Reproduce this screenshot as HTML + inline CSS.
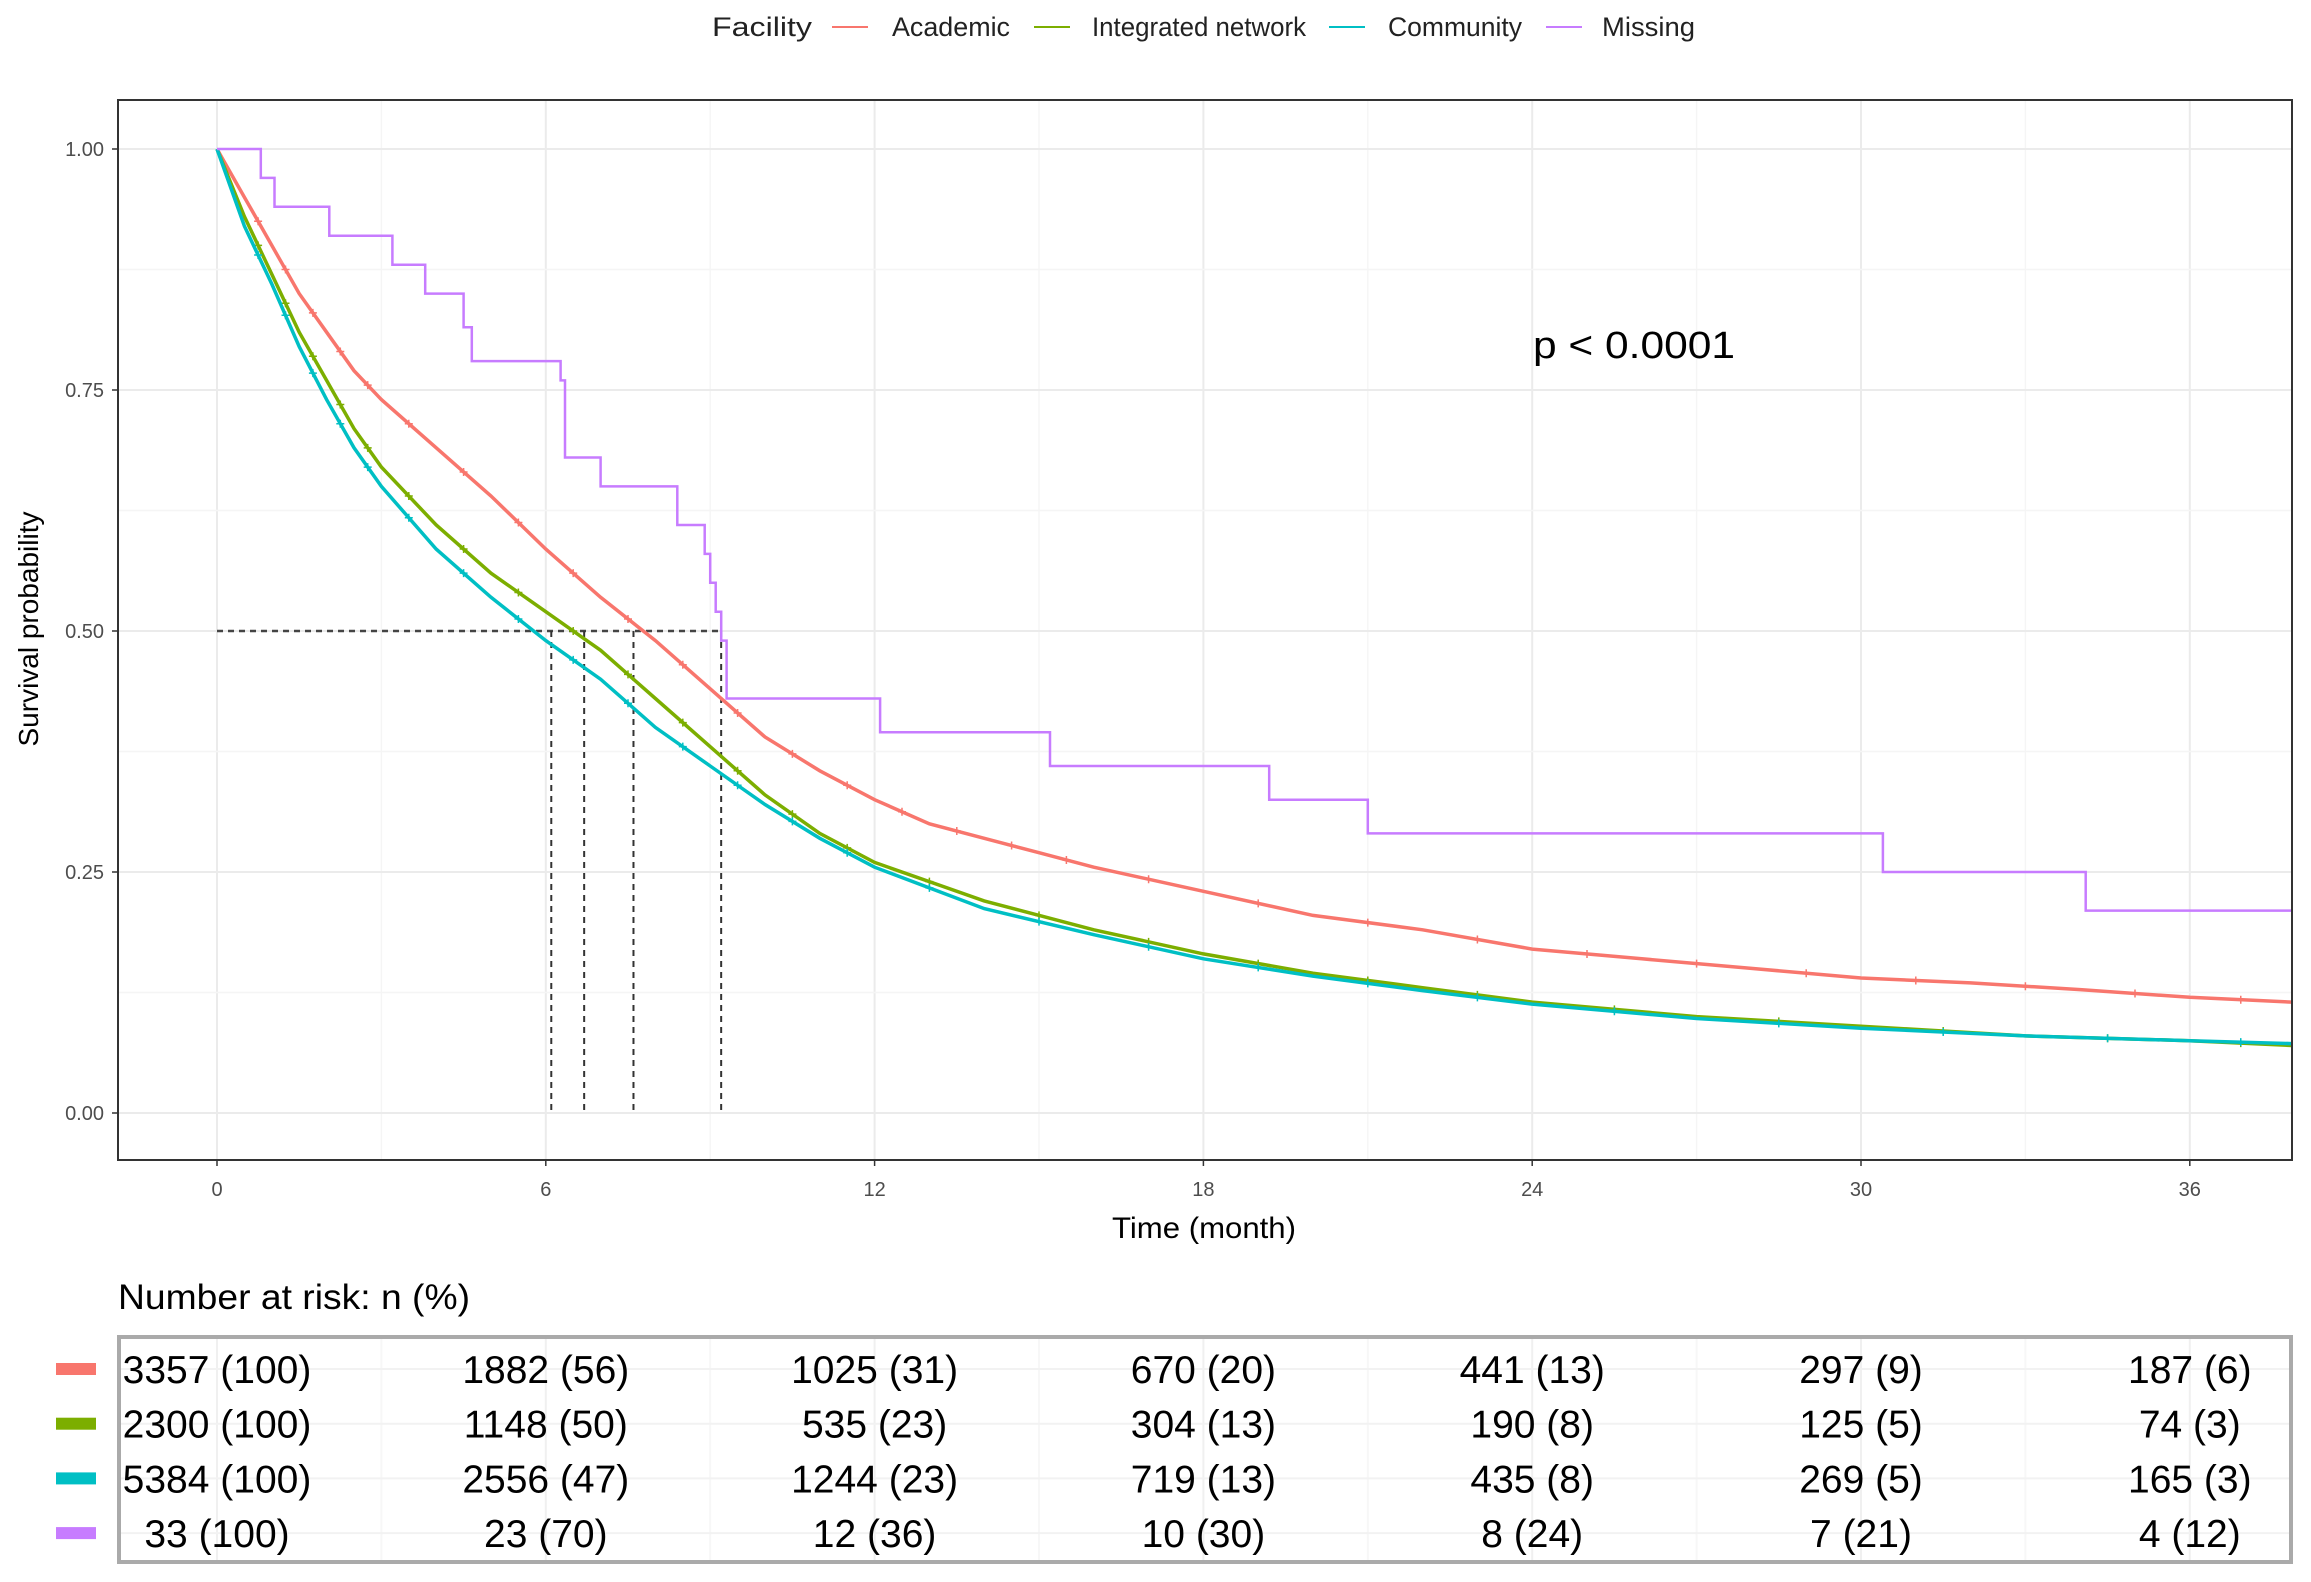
<!DOCTYPE html>
<html><head><meta charset="utf-8"><style>
html,body{margin:0;padding:0;background:#fff}
svg{display:block;font-family:"Liberation Sans",sans-serif}
</style></head><body>
<svg id="chart" width="2311" height="1582" viewBox="0 0 2311 1582" xmlns="http://www.w3.org/2000/svg">
<rect x="0" y="0" width="2311" height="1582" fill="#fff"/>
<g id="legend" font-size="27" fill="#222">
 <text x="712" y="36" textLength="100" lengthAdjust="spacingAndGlyphs">Facility</text>
 <g><line x1="832" y1="27" x2="868" y2="27" stroke="#F8766D" stroke-width="2"/><text x="892" y="36" textLength="118" lengthAdjust="spacingAndGlyphs">Academic</text></g>
 <g><line x1="1034" y1="27" x2="1070" y2="27" stroke="#7CAE00" stroke-width="2"/><text x="1092" y="36" textLength="214" lengthAdjust="spacingAndGlyphs">Integrated network</text></g>
 <g><line x1="1329" y1="27" x2="1365" y2="27" stroke="#00BFC4" stroke-width="2"/><text x="1388" y="36" textLength="134" lengthAdjust="spacingAndGlyphs">Community</text></g>
 <g><line x1="1546" y1="27" x2="1582" y2="27" stroke="#C77CFF" stroke-width="2"/><text x="1602" y="36" textLength="93" lengthAdjust="spacingAndGlyphs">Missing</text></g>
</g>
<g id="grid"></g>
<g id="medians"></g>
<g id="curves"></g>
<rect x="118" y="100" width="2174" height="1060" fill="none" stroke="#333" stroke-width="2"/>
<g id="axes" font-size="20" fill="#4d4d4d"></g>
<text x="1533" y="358" font-size="38" fill="#000" textLength="202" lengthAdjust="spacingAndGlyphs">p &lt; 0.0001</text>
<text x="1204" y="1238" font-size="30" fill="#000" text-anchor="middle" textLength="184" lengthAdjust="spacingAndGlyphs">Time (month)</text>
<text transform="translate(38,629) rotate(-90)" font-size="28" fill="#000" text-anchor="middle">Survival probability</text>
<text x="118" y="1309" font-size="35" fill="#000" textLength="352" lengthAdjust="spacingAndGlyphs">Number at risk: n (%)</text>
<g id="risk"></g>
</svg>
<script>
const times=[0,6,12,18,24,30,36];
const acadT=[0,0.5,1,1.5,2,2.5,3,4,5,6,7,8,9,10,11,12,13,14,15,16,18,20,22,24,26,28,30,32,34,36,37.86];
const acadS=[1,0.95,0.9,0.85,0.81,0.77,0.74,0.69,0.64,0.585,0.535,0.49,0.44,0.39,0.355,0.325,0.3,0.285,0.27,0.255,0.23,0.205,0.19,0.17,0.16,0.15,0.14,0.135,0.128,0.12,0.115];
const intT=[0,0.5,1,1.5,2,2.5,3,4,5,6,7,8,9,10,11,12,14,16,18,20,22,24,27,30,33,36,37.86];
const intS=[1,0.93,0.87,0.81,0.76,0.71,0.67,0.61,0.56,0.52,0.48,0.43,0.38,0.33,0.29,0.26,0.22,0.19,0.165,0.145,0.13,0.115,0.1,0.09,0.08,0.075,0.07];
const comT=[0,0.5,1,1.5,2,2.5,3,4,5,6,7,8,9,10,11,12,14,16,18,20,22,24,27,30,33,36,37.86];
const comS=[1,0.92,0.86,0.795,0.74,0.69,0.65,0.585,0.535,0.49,0.45,0.4,0.36,0.32,0.285,0.255,0.212,0.185,0.16,0.142,0.127,0.113,0.098,0.088,0.08,0.075,0.072];
const misT=[0,0.8,1.05,2.05,3.2,3.8,4.5,4.65,6.27,6.35,7.0,8.4,8.9,9.0,9.1,9.2,9.3,12.1,15.2,19.2,21.0,30.4,34.1,37.86];
const misS=[1,0.97,0.94,0.91,0.88,0.85,0.815,0.78,0.76,0.68,0.65,0.61,0.58,0.55,0.52,0.49,0.43,0.395,0.36,0.325,0.29,0.25,0.21,0.21];
const medians=[6.1,6.7,7.6,9.2];
const riskAcad=["3357 (100)","1882 (56)","1025 (31)","670 (20)","441 (13)","297 (9)","187 (6)"];
const riskInt=["2300 (100)","1148 (50)","535 (23)","304 (13)","190 (8)","125 (5)","74 (3)"];
const riskCom=["5384 (100)","2556 (47)","1244 (23)","719 (13)","435 (8)","269 (5)","165 (3)"];
const riskMis=["33 (100)","23 (70)","12 (36)","10 (30)","8 (24)","7 (21)","4 (12)"];
const yTicks=[0,0.25,0.5,0.75,1];
const yTickLabels=["0.00","0.25","0.50","0.75","1.00"];

const NS="http://www.w3.org/2000/svg";
const X=t=>217+t*54.8;
const Y=v=>1113-v*964;
function mk(tag,attrs,parent){const e=document.createElementNS(NS,tag);for(const k in attrs)e.setAttribute(k,attrs[k]);parent.appendChild(e);return e;}
const grid=document.getElementById('grid');
for(let t=-3;t<=39;t+=3){const x=X(t);if(x<119||x>2291)continue;
 const l=mk('line',{x1:x,y1:101,x2:x,y2:1159,stroke:t%6===0?'#ebebeb':'#f5f5f5','stroke-width':t%6===0?2:1.5},grid);
 }
for(let v=-0.125;v<=1.126;v+=0.125){const y=Y(v);if(y<101||y>1159)continue;
 const maj=Math.abs(v*4-Math.round(v*4))<1e-6;
 const l=mk('line',{x1:119,y1:y,x2:2291,y2:y,stroke:maj?'#ebebeb':'#f5f5f5','stroke-width':maj?2:1.5},grid);
 }
const axes=document.getElementById('axes');
yTicks.forEach((v,i)=>{mk('line',{x1:112,y1:Y(v),x2:118,y2:Y(v),stroke:'#333','stroke-width':1.5},axes);
 const t=mk('text',{x:104,y:Y(v)+7,'text-anchor':'end'},axes);t.textContent=yTickLabels[i];
 });
times.forEach(tm=>{mk('line',{x1:X(tm),y1:1160,x2:X(tm),y2:1166,stroke:'#333','stroke-width':1.5},axes);
 const t=mk('text',{x:X(tm),y:1196,'text-anchor':'middle'},axes);t.textContent=tm;
 });
const med=document.getElementById('medians');
const hl=mk('line',{x1:X(0),y1:Y(0.5),x2:X(Math.max(...medians)),y2:Y(0.5),stroke:'#444','stroke-width':2.5,'stroke-dasharray':'6,5'},med);

medians.forEach(m=>{const l=mk('line',{x1:X(m),y1:Y(0.5),x2:X(m),y2:Y(0),stroke:'#333','stroke-width':2,'stroke-dasharray':'6,5'},med);
 });
const curves=document.getElementById('curves');
function smooth(T,S,col,name){let d='M'+X(T[0])+','+Y(S[0]);
 for(let i=1;i<T.length;i++){d+=' L'+X(T[i]).toFixed(1)+','+Y(S[i]).toFixed(1);}
 const p=mk('path',{d:d,fill:'none',stroke:col,'stroke-width':3.5},curves);
 
 for(let i=1;i<T.length-1;i++){const x=(X(T[i])+X(T[i+1]))/2,y=(Y(S[i])+Y(S[i+1]))/2;
  mk('path',{d:`M${x-4},${y}h8M${x},${y-4}v8`,stroke:col,'stroke-width':1.5},curves);}}
function step(T,S,col,name){let d='M'+X(T[0])+','+Y(S[0]);
 for(let i=1;i<T.length;i++){d+=' H'+X(T[i]).toFixed(1)+' V'+Y(S[i]).toFixed(1);}
 const p=mk('path',{d:d,fill:'none',stroke:col,'stroke-width':2.5},curves);
 }
smooth(acadT,acadS,'#F8766D','curve-academic');
smooth(intT,intS,'#7CAE00','curve-integrated-network');
smooth(comT,comS,'#00BFC4','curve-community');
step(misT,misS,'#C77CFF','curve-missing');
const risk=document.getElementById('risk');
const rb=mk('rect',{x:119,y:1337,width:2172,height:225,fill:'#fff',stroke:'#aaa','stroke-width':4},risk);

for(let t=0;t<=36;t+=3){mk('line',{x1:X(t),y1:1339,x2:X(t),y2:1560,stroke:t%6===0?'#f0f0f0':'#f7f7f7','stroke-width':2},risk);}
const rows=[[riskAcad,'#F8766D'],[riskInt,'#7CAE00'],[riskCom,'#00BFC4'],[riskMis,'#C77CFF']];
rows.forEach((r,i)=>{const y=1369+i*54.7;
 mk('line',{x1:121,y1:y,x2:2289,y2:y,stroke:'#f2f2f2','stroke-width':2},risk);
 const sw=mk('rect',{x:56,y:y-6,width:40,height:12,fill:r[1]},risk);
 
 r[0].forEach((s,j)=>{const t=mk('text',{x:X(times[j]),y:y+14,'font-size':39,'text-anchor':'middle',fill:'#000'},risk);
  t.textContent=s;});});
</script>
</body></html>
